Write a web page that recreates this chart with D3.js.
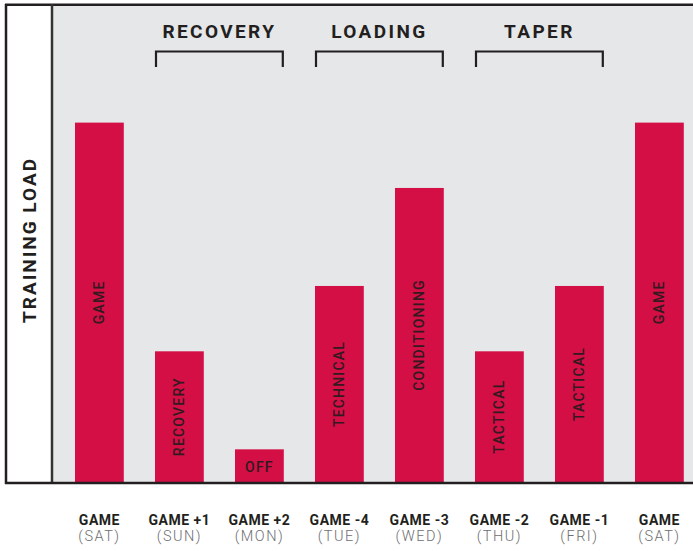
<!DOCTYPE html>
<html>
<head>
<meta charset="utf-8">
<script src="https://cdn.jsdelivr.net/npm/d3@7"></script>
<style>
  body { margin: 0; background: #fff; }
  svg { display: block; }
  text { font-family: Roboto, "Liberation Sans", sans-serif; }
</style>
</head>
<body>
<div id="chart"></div>
<script>
// chart data
const dayTitles = ["GAME", "GAME +1", "GAME +2", "GAME -4", "GAME -3", "GAME -2", "GAME -1", "GAME"];
const dayNames = ["(SAT)", "(SUN)", "(MON)", "(TUE)", "(WED)", "(THU)", "(FRI)", "(SAT)"];
const sessions = ["GAME", "RECOVERY", "OFF", "TECHNICAL", "CONDITIONING", "TACTICAL", "TACTICAL", "GAME"];
const loads = [11, 4, 1, 6, 9, 4, 6, 11];
const phaseNames = ["RECOVERY", "LOADING", "TAPER"];
const phaseFirst = [1, 3, 5];
const phaseLast = [2, 4, 6];

const width = 693, height = 551;
const margin = { top: 5, left: 52, bottom: 483, right: 693 };
const barColor = "#d30f45";
const ink = "#231f20";

const svg = d3.select("#chart")
    .append("svg")
    .attr("width", width)
    .attr("height", height);

const keys = d3.range(dayTitles.length);

const xScale = d3.scaleBand()
    .domain(keys)
    .range([59, 699.8])
    .paddingInner(0.39)
    .paddingOuter(0.2);

const yScale = d3.scaleLinear()
    .domain([0, 14.6])
    .range([482, 5]);

// plot background
svg.append("rect")
    .attr("x", margin.left)
    .attr("y", margin.top)
    .attr("width", width - margin.left)
    .attr("height", margin.bottom - margin.top)
    .attr("fill", "#e6e7e9");

// bars
svg.selectAll(".bar")
    .data(keys)
    .enter().append("rect")
    .attr("class", "bar")
    .attr("x", i => xScale(i))
    .attr("y", i => yScale(loads[i]))
    .attr("width", xScale.bandwidth())
    .attr("height", i => yScale(0) - yScale(loads[i]))
    .attr("fill", barColor);

// session labels inside the bars
svg.selectAll(".session")
    .data(keys)
    .enter().append("text")
    .attr("class", "session")
    .each(function (i) {
        const cx = xScale(i) + xScale.bandwidth() / 2;
        const cy = (yScale(loads[i]) + yScale(0)) / 2;
        const barH = yScale(0) - yScale(loads[i]);
        const t = d3.select(this)
            .text(sessions[i])
            .attr("text-anchor", "middle")
            .attr("dominant-baseline", "central")
            .attr("font-size", 14)
            .attr("font-weight", 500)
            .attr("letter-spacing", 1.2)
            .attr("fill", "#321a20");
        const len = this.getComputedTextLength();
        if (len + 10 < barH) {
            t.attr("transform", `translate(${cx},${cy}) rotate(-90)`);
        } else {
            t.attr("transform", `translate(${cx},${cy + 1})`);
        }
    });

// frame lines
svg.append("line")
    .attr("x1", 5).attr("x2", width)
    .attr("y1", 4.7).attr("y2", 4.7)
    .attr("stroke", ink).attr("stroke-width", 2.5);
svg.append("line")
    .attr("x1", 6).attr("x2", 6)
    .attr("y1", 4).attr("y2", 484)
    .attr("stroke", ink).attr("stroke-width", 2.5);
svg.append("line")
    .attr("x1", 52).attr("x2", 52)
    .attr("y1", 4).attr("y2", 484)
    .attr("stroke", "#333").attr("stroke-width", 2.5);
svg.append("line")
    .attr("x1", 5).attr("x2", width)
    .attr("y1", 483).attr("y2", 483)
    .attr("stroke", ink).attr("stroke-width", 2.5);

// y title
svg.append("text")
    .attr("transform", `translate(35.5,240) rotate(-90)`)
    .attr("text-anchor", "middle")
    .attr("font-size", 19)
    .attr("font-weight", 700)
    .attr("letter-spacing", 2)
    .attr("fill", ink)
    .text("TRAINING LOAD");

// phase brackets
const phases = svg.selectAll(".phase")
    .data(d3.range(phaseNames.length))
    .enter().append("g")
    .attr("class", "phase");

phases.append("path")
    .attr("d", p => {
        const x0 = xScale(phaseFirst[p]) + 1;
        const x1 = xScale(phaseLast[p]) + xScale.bandwidth() - 1;
        return `M${x0},67V51.5H${x1}V67`;
    })
    .attr("fill", "none")
    .attr("stroke", ink)
    .attr("stroke-width", 2.2);

phases.append("text")
    .attr("x", p => (xScale(phaseFirst[p]) + xScale(phaseLast[p]) + xScale.bandwidth()) / 2)
    .attr("y", 38)
    .attr("text-anchor", "middle")
    .attr("font-size", 19)
    .attr("font-weight", 700)
    .attr("letter-spacing", 2.4)
    .attr("fill", ink)
    .text(p => phaseNames[p]);

// x labels
const ticks = svg.selectAll(".tick-label")
    .data(keys)
    .enter().append("g")
    .attr("class", "tick-label")
    .attr("transform", i => `translate(${xScale(i) + xScale.bandwidth() / 2},0)`);

ticks.append("text")
    .attr("y", 525)
    .attr("text-anchor", "middle")
    .attr("font-size", 14)
    .attr("font-weight", 700)
    .attr("letter-spacing", 0.5)
    .attr("fill", ink)
    .text(i => dayTitles[i]);

ticks.append("text")
    .attr("y", 541)
    .attr("text-anchor", "middle")
    .attr("font-size", 14.5)
    .attr("font-weight", 300)
    .attr("letter-spacing", 1.5)
    .attr("fill", "#6d6e71")
    .text(i => dayNames[i]);
</script>
</body>
</html>
